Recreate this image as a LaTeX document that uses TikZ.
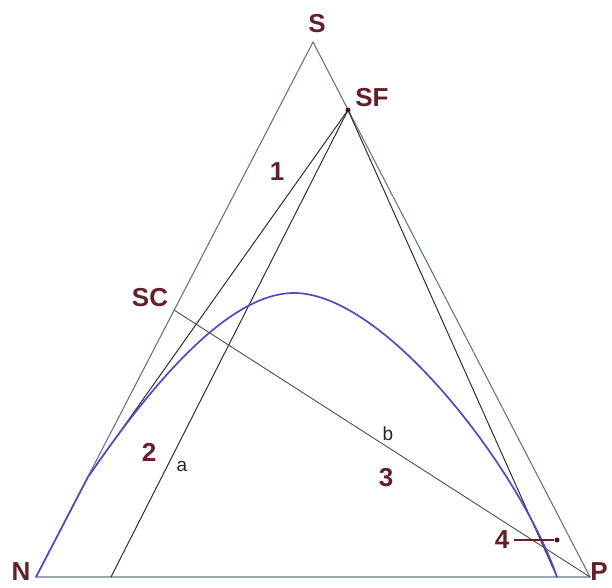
\documentclass[tikz,border=0pt]{standalone}
\usepackage{fontspec}
\setmainfont{Liberation Sans}
\definecolor{edgecol}{RGB}{95,120,138}
\definecolor{linecol}{RGB}{45,45,58}
\definecolor{curvecol}{RGB}{82,72,200}
\definecolor{labcol}{RGB}{100,32,42}
\begin{document}
\begin{tikzpicture}[x=1pt,y=-1pt,
  edge/.style={draw=edgecol,line width=1.1pt},
  inner/.style={draw=linecol,line width=1pt},
  curve/.style={draw=curvecol,line width=1.7pt},
  biglab/.style={text=labcol,font=\fontsize{26}{26}\selectfont\bfseries,inner sep=0pt},
  smalllab/.style={text=black!85,font=\fontsize{19}{19}\selectfont,inner sep=0pt},
  pt/.style={circle,fill=labcol!70!black,inner sep=0pt,minimum size=5pt}]
\useasboundingbox (0,0) rectangle (612,587);
% key points
\coordinate (N) at (36,577);
\coordinate (S) at (313,42);
\coordinate (P) at (590,577);
\coordinate (SF) at (348,110);
\coordinate (SC) at (174,310);
\coordinate (T) at (88,477);
\coordinate (B1) at (111,577);
\coordinate (B2) at (557,577);
\coordinate (Top) at (294,293);
% triangle
\draw[edge] (N) -- (S) -- (P) -- cycle;
% lines
\draw[inner] (SF) -- (T);
\draw[inner] (SF) -- (B1);
\draw[inner] (SF) -- (B2);
\draw[draw=linecol!85,line width=0.9pt] (SC) -- (P);
% curve
\draw[curve] (N) -- (T) .. controls (143,397) and (224,293) .. (Top)
  .. controls (385,293) and (520,470) .. (B2);
% points
\node[pt] (sfdot) at (SF) {};
\node[pt] (d4) at (557,540) {};
% labels
\node[biglab] (lS) at (317,24) {S};
\node[biglab] (lSF) at (372,98) {SF};
\node[biglab] (lSC) at (150,298) {SC};
\node[biglab] (lN) at (21,572) {N};
\node[biglab] (lP) at (599,572) {P};
\node[biglab] (l1) at (277,172) {1};
\node[biglab] (l2) at (149,452) {2};
\node[biglab] (l3) at (386,478) {3};
\node[biglab] (l4) at (502,540) {4};
\node[smalllab] (la) at (182,466) {a};
\node[smalllab] (lb) at (388,434) {b};
\draw[draw=labcol,line width=1.1pt] (l4.east) ++(5,0) -- (d4);
\end{tikzpicture}
\end{document}
